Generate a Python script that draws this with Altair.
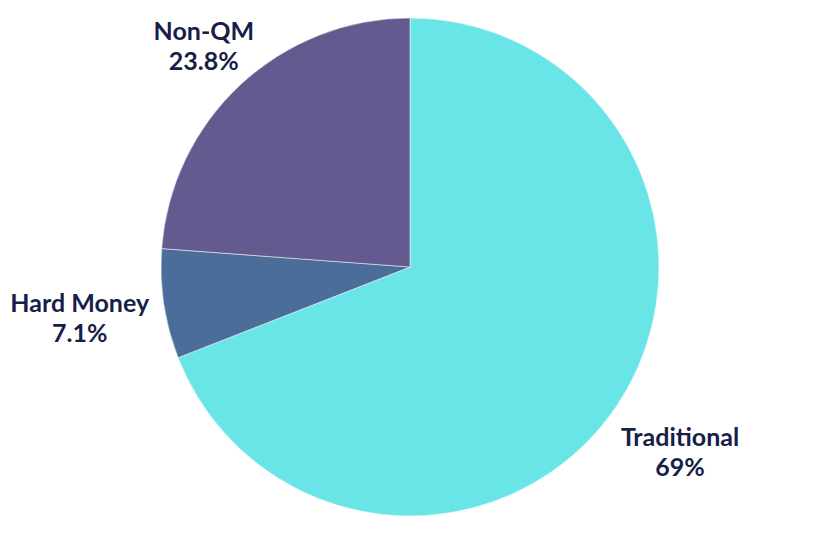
import altair as alt
import pandas as pd
import math

categories = ["Traditional", "Hard Money", "Non-QM"]
shares = [69.0, 7.1, 23.8]
share_labels = ["69%", "7.1%", "23.8%"]
colors = ["#69E5E8", "#4B6D99", "#645A8F"]

# label distance from the pie centre (pixels), per category
label_radius = {"Traditional": 327, "Hard Money": 334, "Non-QM": 303}

df = pd.DataFrame({
    "category": categories,
    "share": shares,
    "pct": share_labels,
    "idx": list(range(len(categories))),
})
df["lr"] = df["category"].map(label_radius)

total = sum(shares)

arcs = alt.Chart(df).mark_arc(outerRadius=249, stroke="white", strokeWidth=0.5).encode(
    theta=alt.Theta("share:Q", stack=True),
    order=alt.Order("idx:Q"),
    color=alt.Color("category:N",
                    scale=alt.Scale(domain=categories, range=colors),
                    legend=None),
)

labels = alt.Chart(df).transform_window(
    cum="sum(share)", sort=[alt.SortField("idx")],
    frame=[None, 0],
).transform_calculate(
    mid="datum.cum - datum.share / 2",
    label="datum.category + '\\n' + datum.pct",
).mark_text(
    font="Lato", fontWeight="bold", fontSize=25, color="#171E48",
    lineBreak="\n", lineHeight=30, align="center", baseline="middle", dy=-13,
).encode(
    theta=alt.Theta("mid:Q", stack=False,
                    scale=alt.Scale(domain=[0, total], range=[0, 2 * math.pi])),
    radius=alt.Radius("lr:Q", scale=None),
    text="label:N",
)

chart = (arcs + labels).resolve_scale(theta="independent").properties(
    width=804, height=518, padding=0,
    autosize=alt.AutoSizeParams(type="none"),
).configure_view(stroke=None)

chart.save("out.html", embed_options={"renderer": "svg", "actions": False})
